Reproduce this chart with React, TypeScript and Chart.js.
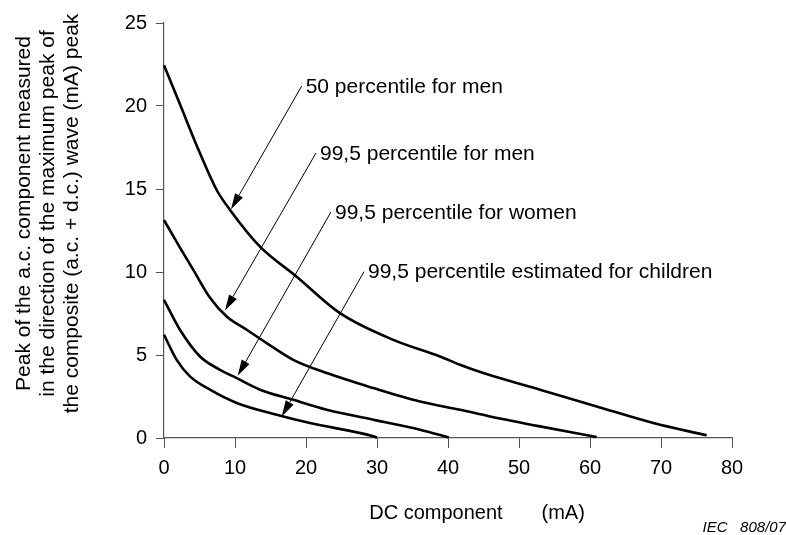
import React, { useEffect, useRef } from 'react';
import { Chart, registerables } from 'chart.js';

Chart.register(...registerables);

const FONT = '"Liberation Sans", Arial, Helvetica, sans-serif';

// DC component (mA) / peak of a.c. component (mA)
const men50X = [0, 2.25, 5.07, 7.42, 9.3, 13.52, 18.69, 24.79, 32.3, 38.87, 41.69, 44.97, 52.96, 60.94, 68.92, 76.44];
const men50Y = [22.46, 20.1, 17.15, 14.94, 13.74, 11.53, 9.72, 7.52, 5.91, 4.91, 4.41, 3.91, 2.91, 1.9, 0.9, 0.16];

const men995X = [0, 2.0, 4.13, 6.48, 8.83, 11.65, 14.46, 18.21, 22.92, 29.48, 36.06, 41.69, 45.92, 52.96, 60.94];
const men995Y = [13.13, 11.65, 10.13, 8.45, 7.32, 6.52, 5.72, 4.71, 3.91, 3.01, 2.2, 1.7, 1.3, 0.7, 0.06];

const women995X = [0, 2.25, 5.07, 7.89, 9.76, 13.52, 18.21, 22.92, 29.48, 36.06, 40.1];
const women995Y = [8.32, 6.52, 4.91, 4.11, 3.71, 2.91, 2.3, 1.7, 1.1, 0.5, 0.03];

const children995X = [0, 1.79, 3.66, 6.48, 10.24, 15.87, 20.56, 29.48, 30.0];
const children995Y = [6.22, 4.71, 3.71, 2.91, 2.11, 1.4, 0.9, 0.1, 0.02];

const seriesNames = ['50 percentile for men', '99,5 percentile for men', '99,5 percentile for women', '99,5 percentile estimated for children'];

// annotation arrows: from label anchor to the curve
const annotFromX = [19.39, 21.41, 23.52, 28.17];
const annotFromY = [21.2, 17.17, 13.62, 10.02];
const annotToX = [9.44, 8.59, 10.38, 16.58];
const annotToY = [13.78, 7.68, 3.75, 1.3];

const xMin = 0, xMax = 80, xStep = 10;
const yMin = 0, yMax = 25, yStep = 5;

const yTitleLines = [
  'Peak of the a.c. component measured',
  'in the direction of the maximum peak of',
  'the composite (a.c. + d.c.) wave (mA) peak',
];
const xTitle = 'DC component       (mA)';
const sourceNote = 'IEC   808/07';

const toPoints = (xs: number[], ys: number[]) => xs.map((x, i) => ({ x, y: ys[i] }));

const overlayPlugin = {
  id: 'overlay',
  afterDatasetsDraw(chart: any) {
    const { ctx, chartArea } = chart;
    const xs = chart.scales.x;
    const ys = chart.scales.y;
    ctx.save();
    ctx.fillStyle = '#000';
    ctx.strokeStyle = '#000';
    ctx.font = `21px ${FONT}`;
    ctx.textBaseline = 'middle';
    ctx.textAlign = 'left';
    seriesNames.forEach((label, i) => {
      const x0 = xs.getPixelForValue(annotFromX[i]);
      const y0 = ys.getPixelForValue(annotFromY[i]);
      const x1 = xs.getPixelForValue(annotToX[i]);
      const y1 = ys.getPixelForValue(annotToY[i]);
      const ang = Math.atan2(y1 - y0, x1 - x0);
      const len = 16;
      const hw = 4.5;
      const bx = x1 - len * Math.cos(ang);
      const by = y1 - len * Math.sin(ang);
      ctx.lineWidth = 1;
      ctx.beginPath();
      ctx.moveTo(x0, y0);
      ctx.lineTo(bx, by);
      ctx.stroke();
      ctx.beginPath();
      ctx.moveTo(x1, y1);
      ctx.lineTo(bx + hw * Math.sin(ang), by - hw * Math.cos(ang));
      ctx.lineTo(bx - hw * Math.sin(ang), by + hw * Math.cos(ang));
      ctx.closePath();
      ctx.fill();
      ctx.fillText(label, x0 + 4, y0 + 1);
    });

    // y-axis title (three rotated lines)
    const cy = (chartArea.top + chartArea.bottom) / 2 - 17;
    yTitleLines.forEach((line, i) => {
      ctx.save();
      ctx.translate(chartArea.left - 140 + i * 24, cy);
      ctx.rotate(-Math.PI / 2);
      ctx.textAlign = 'center';
      ctx.textBaseline = 'middle';
      ctx.fillText(line, 0, 0);
      ctx.restore();
    });

    // x-axis title
    ctx.font = `20px ${FONT}`;
    ctx.textAlign = 'center';
    ctx.textBaseline = 'middle';
    ctx.fillText(xTitle, (chartArea.left + chartArea.right) / 2 + 29, chartArea.bottom + 75);

    // source note
    ctx.font = `italic 15px ${FONT}`;
    ctx.textAlign = 'right';
    ctx.fillText(sourceNote, chart.width, chartArea.bottom + 90);
    ctx.restore();
  },
};

export default function App() {
  const ref = useRef<HTMLCanvasElement | null>(null);

  useEffect(() => {
    if (!ref.current) return;
    const lineStyle = {
      borderColor: '#000',
      backgroundColor: '#000',
      borderWidth: 2.6,
      pointRadius: 0,
      fill: false,
      cubicInterpolationMode: 'monotone' as const,
      clip: 6,
    };
    const chart = new Chart(ref.current, {
      type: 'line',
      data: {
        datasets: [
          { label: seriesNames[0], data: toPoints(men50X, men50Y), ...lineStyle },
          { label: seriesNames[1], data: toPoints(men995X, men995Y), ...lineStyle },
          { label: seriesNames[2], data: toPoints(women995X, women995Y), ...lineStyle },
          { label: seriesNames[3], data: toPoints(children995X, children995Y), ...lineStyle },
        ],
      },
      options: {
        animation: false,
        responsive: false,
        layout: { padding: { top: 23, right: 54, bottom: 0, left: 0 } },
        plugins: {
          legend: { display: false },
          tooltip: { enabled: false },
          title: { display: false },
        },
        scales: {
          x: {
            type: 'linear',
            min: xMin,
            max: xMax,
            ticks: { stepSize: xStep, color: '#000', font: { size: 20, family: FONT }, padding: 8, maxRotation: 0 },
            grid: { display: true, drawOnChartArea: false, drawTicks: true, tickLength: 10, color: '#555', lineWidth: 1 },
            border: { display: true, color: '#555', width: 1.2 },
            afterFit: (scale: any) => { scale.height = 97; },
          },
          y: {
            type: 'linear',
            min: yMin,
            max: yMax,
            ticks: { stepSize: yStep, color: '#000', font: { size: 20, family: FONT }, padding: 9 },
            grid: { display: true, drawOnChartArea: false, drawTicks: true, tickLength: 8, color: '#555', lineWidth: 1 },
            border: { display: true, color: '#555', width: 1.2 },
            afterFit: (scale: any) => { scale.width = 164; },
          },
        },
      },
      plugins: [overlayPlugin],
    });
    return () => chart.destroy();
  }, []);

  return (
    <div style={{ position: 'fixed', left: 0, top: 0, width: 786, height: 535, background: '#fff' }}>
      <canvas ref={ref} width={786} height={535} style={{ display: 'block', width: 786, height: 535 }} />
    </div>
  );
}
